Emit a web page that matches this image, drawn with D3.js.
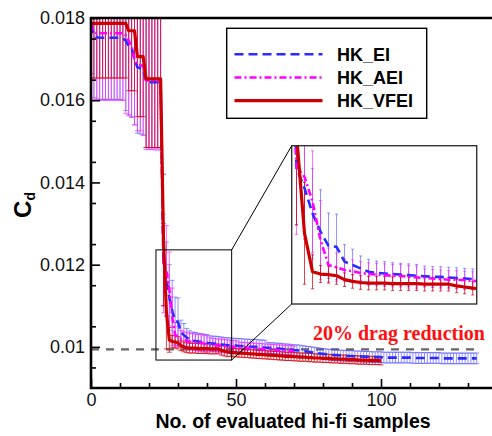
<!DOCTYPE html>
<html>
<head>
<meta charset="utf-8">
<script src="https://cdn.jsdelivr.net/npm/d3@7"></script>
<style>
  body { margin: 0; background: #fff; }
  svg { display: block; font-family: "Liberation Sans", Arial, sans-serif; }
</style>
</head>
<body>
<div id="chart"></div>
<script>
// ------------- DATA (index = no. of evaluated hi-fi samples) -------------
var meanEI = [
  0.01785,
  0.01756, 0.01753, 0.01752, 0.01752, 0.01752, 0.01752, 0.01752, 0.01752, 0.01752, 0.01752,
  0.01750, 0.01745, 0.01732, 0.01728, 0.01700, 0.01680, 0.01678, 0.01676, 0.01645, 0.01644,
  0.01644, 0.01644, 0.01644, 0.01644, 0.01200, 0.01165, 0.01120, 0.01088, 0.01063, 0.01061,
  0.01035, 0.01029, 0.01023, 0.01017, 0.01015, 0.01014, 0.01013, 0.01012, 0.01011, 0.01010,
  0.01009, 0.01008, 0.01008, 0.01007, 0.01006, 0.01005, 0.01004, 0.01004, 0.01003, 0.01003,
  0.01002, 0.01002, 0.01001, 0.01001, 0.01000, 0.01000, 0.01000, 0.00999, 0.00999, 0.00998,
  0.00998, 0.00997, 0.00997, 0.00996, 0.00996, 0.00995, 0.00994, 0.00994, 0.00993, 0.00992,
  0.00992, 0.00991, 0.00990, 0.00989, 0.00988, 0.00987, 0.00986, 0.00985, 0.00984, 0.00983,
  0.00982, 0.00981, 0.00981, 0.00980, 0.00980, 0.00979, 0.00979, 0.00978, 0.00978, 0.00978,
  0.00977, 0.00977, 0.00977, 0.00976, 0.00976, 0.00976, 0.00975, 0.00975, 0.00975, 0.00975,
  0.00974, 0.00974, 0.00974, 0.00974, 0.00974, 0.00974, 0.00974, 0.00974, 0.00974, 0.00974,
  0.00973, 0.00973, 0.00973, 0.00973, 0.00973, 0.00973, 0.00973, 0.00973, 0.00973, 0.00973,
  0.00972, 0.00972, 0.00972, 0.00972, 0.00972, 0.00972, 0.00972, 0.00972, 0.00972, 0.00972,
  0.00972, 0.00972, 0.00972
];
var errEI = [
  0.0012,
  0.0015, 0.0015, 0.0015, 0.0015, 0.0015, 0.0015, 0.0015, 0.0015, 0.0015, 0.0015,
  0.0015, 0.0017, 0.0017, 0.0017, 0.0016, 0.0016, 0.0016, 0.0016, 0.0016, 0.0016,
  0.0016, 0.0016, 0.0016, 0.0016, 0.0010, 0.0009, 0.0008, 0.00074, 0.00058, 0.00058,
  0.0003, 0.00028, 0.00022, 0.00022, 0.00021, 0.00021, 0.0002, 0.0002, 0.0002, 0.0002,
  0.00018, 0.00018, 0.00018, 0.00018, 0.00018, 0.00018, 0.00018, 0.00018, 0.00018, 0.00018,
  0.00018, 0.00018, 0.00018, 0.00018, 0.00018, 0.00018, 0.00018, 0.00018, 0.00018, 0.00018,
  0.00013, 0.00013, 0.00013, 0.00013, 0.00013, 0.00013, 0.00013, 0.00013, 0.00013, 0.00013,
  0.00013, 0.00013, 0.00013, 0.00013, 0.00013, 0.00013, 0.00013, 0.00013, 0.00013, 0.00013,
  0.00013, 0.00013, 0.00013, 0.00013, 0.00013, 0.00013, 0.00013, 0.00013, 0.00013, 0.00013,
  0.00013, 0.00013, 0.00013, 0.00013, 0.00013, 0.00013, 0.00013, 0.00013, 0.00013, 0.00013,
  0.00013, 0.00013, 0.00013, 0.00013, 0.00013, 0.00013, 0.00013, 0.00013, 0.00013, 0.00013,
  0.00013, 0.00013, 0.00013, 0.00013, 0.00013, 0.00013, 0.00013, 0.00013, 0.00013, 0.00013,
  0.00013, 0.00013, 0.00013, 0.00013, 0.00013, 0.00013, 0.00013, 0.00013, 0.00013, 0.00013,
  0.00013, 0.00013, 0.00013
];
var meanAEI = [
  0.01785,
  0.01765, 0.01763, 0.01763, 0.01763, 0.01763, 0.01763, 0.01763, 0.01763, 0.01763, 0.01763,
  0.01763, 0.01758, 0.01745, 0.01730, 0.01700, 0.01686, 0.01685, 0.01684, 0.01648, 0.01648,
  0.01648, 0.01647, 0.01647, 0.01647, 0.01203, 0.01185, 0.01141, 0.01073, 0.01029, 0.01025,
  0.01020, 0.01018, 0.01015, 0.01013, 0.01012, 0.01011, 0.01010, 0.01010, 0.01008, 0.01007,
  0.01006, 0.01005, 0.01004, 0.01003, 0.01003, 0.01002, 0.01001, 0.01000, 0.01000, 0.00999,
  0.00999, 0.00998, 0.00998, 0.00997, 0.00997, 0.00996, 0.00996, 0.00995, 0.00995, 0.00994,
  0.00994, 0.00993, 0.00993, 0.00992, 0.00992, 0.00991, 0.00991, 0.00990, 0.00990, 0.00989
];
var errAEI = [
  0.0012,
  0.00163, 0.00163, 0.00163, 0.00163, 0.00163, 0.00163, 0.00163, 0.00163, 0.00163, 0.00163,
  0.00163, 0.0019, 0.0018, 0.0017, 0.0016, 0.0016, 0.0016, 0.0017, 0.00168, 0.00168,
  0.00168, 0.00168, 0.00168, 0.00168, 0.0012, 0.0011, 0.0009, 0.0007, 0.0003, 0.00025,
  0.0002, 0.0002, 0.0002, 0.0002, 0.0002, 0.0002, 0.0002, 0.0002, 0.0002, 0.0002,
  0.00016, 0.00016, 0.00016, 0.00016, 0.00016, 0.00016, 0.00016, 0.00016, 0.00016, 0.00016,
  0.00013, 0.00013, 0.00013, 0.00013, 0.00013, 0.00013, 0.00013, 0.00013, 0.00013, 0.00013,
  0.00013, 0.00013, 0.00013, 0.00013, 0.00013, 0.00013, 0.00013, 0.00013, 0.00013, 0.00013
];
var meanVFEI = [
  0.01787, 0.01787, 0.01787, 0.01787, 0.01787, 0.01787, 0.01787, 0.01787, 0.01787, 0.01787,
  0.01787, 0.01787, 0.01787, 0.01769, 0.01769, 0.01769, 0.01706, 0.01706, 0.01706, 0.01652,
  0.01652, 0.01652, 0.01652, 0.01652, 0.01652, 0.01260, 0.01085, 0.01017, 0.01013, 0.01012,
  0.01010, 0.01003, 0.01000, 0.00998, 0.00997, 0.00997, 0.00997, 0.00996, 0.00996, 0.00996,
  0.00996, 0.00995, 0.00995, 0.00995, 0.00995, 0.00992, 0.00990, 0.00988, 0.00987, 0.00986,
  0.00986, 0.00985, 0.00985, 0.00984, 0.00984, 0.00983, 0.00983, 0.00982, 0.00982, 0.00981,
  0.00981, 0.00980, 0.00980, 0.00979, 0.00979, 0.00978, 0.00978, 0.00977, 0.00977, 0.00977,
  0.00976, 0.00976, 0.00975, 0.00975, 0.00975, 0.00974, 0.00974, 0.00973, 0.00973, 0.00973,
  0.00972, 0.00972, 0.00972, 0.00971, 0.00971, 0.00971, 0.00970, 0.00970, 0.00970, 0.00969,
  0.00969, 0.00969, 0.00968, 0.00968, 0.00968, 0.00968, 0.00967, 0.00967, 0.00967, 0.00967,
  0.00966
];
var errVFEI = [
  0.00133, 0.00133, 0.00133, 0.00133, 0.00133, 0.00133, 0.00133, 0.00133, 0.00133, 0.00133,
  0.00133, 0.00133, 0.00133, 0.00146, 0.00146, 0.00146, 0.00146, 0.00146, 0.00146, 0.00167,
  0.00167, 0.00167, 0.00167, 0.00167, 0.00167, 0.0016, 0.0009, 0.0003, 0.00015, 0.00015,
  0.00015, 0.00012, 0.00012, 0.00012, 0.00012, 0.00012, 0.00012, 0.00012, 0.00012, 0.00012,
  0.00012, 0.00012, 0.00012, 0.00012, 0.00012, 0.00012, 0.00012, 0.00012, 0.0001, 0.0001,
  0.0001, 0.0001, 0.0001, 0.0001, 0.0001, 0.0001, 0.0001, 0.0001, 0.0001, 0.0001,
  0.0001, 0.0001, 0.0001, 0.0001, 0.0001, 0.0001, 0.0001, 0.0001, 0.0001, 0.0001,
  0.0001, 0.0001, 0.0001, 0.0001, 0.0001, 0.0001, 0.0001, 0.0001, 0.0001, 0.0001,
  0.0001, 0.0001, 0.0001, 0.0001, 0.0001, 0.0001, 0.0001, 0.0001, 0.0001, 0.0001,
  0.0001, 0.0001, 0.0001, 0.0001, 0.0001, 0.0001, 0.0001, 0.0001, 0.0001, 0.0001,
  0.0001
];
var seriesNames = ["HK_EI", "HK_AEI", "HK_VFEI"];
var xMajorTicks = [0, 50, 100];
var yMajorTicks = [0.01, 0.012, 0.014, 0.016, 0.018];
var yTickLabels = ["0.01", "0.012", "0.014", "0.016", "0.018"];
var dragTarget = 0.00994;          // 20% drag reduction level
var dragTargetEnd = 133;
var zoomBox = { x0: 22.4, x1: 48.5, y0: 0.00968, y1: 0.01236 };   // region shown in the inset
var insetDomainX = [24.4, 47.5];
var insetDomainY = [0.0096, 0.0124];

var series = [
  { name: seriesNames[0], mean: meanEI,   err: errEI,   line: "#2b2bff", bar: "#4a4aff", barOp: 0.6,  dash: "9,5",     w: 2.6 },
  { name: seriesNames[1], mean: meanAEI,  err: errAEI,  line: "#ff00ff", bar: "#ff22ff", barOp: 0.65, dash: "7,3,2,3", w: 2.6 },
  { name: seriesNames[2], mean: meanVFEI, err: errVFEI, line: "#cc0000", bar: "#d80010", barOp: 0.75, dash: null,      w: 3.2 }
];

// ------------- SVG -------------
var width = 492, height = 436;
var svg = d3.select("#chart").append("svg")
    .attr("width", width)
    .attr("height", height);

var x = d3.scaleLinear().domain([0, 138]).range([91, 491.2]);
var y = d3.scaleLinear().domain([0.009, 0.018]).range([388, 18]);

var xi = d3.scaleLinear().domain(insetDomainX).range([291.7, 476.7]);
var yi = d3.scaleLinear().domain(insetDomainY).range([304, 145.7]);

var defs = svg.append("defs");
defs.append("clipPath").attr("id", "clipMain").append("rect")
    .attr("x", x(0)).attr("y", y(0.018))
    .attr("width", width - x(0)).attr("height", y(0.009) - y(0.018));
defs.append("clipPath").attr("id", "clipInset").append("rect")
    .attr("x", xi.range()[0]).attr("y", yi.range()[1])
    .attr("width", xi.range()[1] - xi.range()[0]).attr("height", yi.range()[0] - yi.range()[1]);

function points(s) {
    return s.mean.map(function (m, i) { return { x: i, m: m, e: s.err[i] }; });
}

// error bars + mean lines
function drawSeries(g, xs, ys, cap) {
    series.forEach(function (s) {
        var p = d3.path();
        points(s).forEach(function (d) {
            var px = xs(d.x), lo = ys(d.m - d.e), hi = ys(d.m + d.e);
            p.moveTo(px, lo); p.lineTo(px, hi);
            p.moveTo(px - cap, lo); p.lineTo(px + cap, lo);
            p.moveTo(px - cap, hi); p.lineTo(px + cap, hi);
        });
        g.append("path")
            .attr("d", p.toString())
            .attr("fill", "none")
            .attr("stroke", s.bar)
            .attr("stroke-opacity", s.barOp)
            .attr("stroke-width", 1);
    });
    var line = d3.line().x(function (d) { return xs(d.x); }).y(function (d) { return ys(d.m); });
    series.forEach(function (s) {
        g.append("path")
            .datum(points(s))
            .attr("d", line)
            .attr("fill", "none")
            .attr("stroke", s.line)
            .attr("stroke-width", s.w)
            .attr("stroke-linejoin", "round")
            .attr("stroke-dasharray", s.dash);
    });
}

// main plot
var gMain = svg.append("g").attr("clip-path", "url(#clipMain)");
gMain.append("line")
    .attr("x1", x(0)).attr("x2", x(dragTargetEnd))
    .attr("y1", y(dragTarget)).attr("y2", y(dragTarget))
    .attr("stroke", "#666").attr("stroke-width", 2.4)
    .attr("stroke-dasharray", "8,7");
drawSeries(gMain, x, y, 2.5);

// zoom rectangle + connectors
svg.append("rect")
    .attr("x", x(zoomBox.x0)).attr("y", y(zoomBox.y1))
    .attr("width", x(zoomBox.x1) - x(zoomBox.x0))
    .attr("height", y(zoomBox.y0) - y(zoomBox.y1))
    .attr("fill", "none").attr("stroke", "#000").attr("stroke-width", 1);
svg.append("line")
    .attr("x1", x(zoomBox.x1)).attr("y1", y(zoomBox.y1))
    .attr("x2", xi.range()[0]).attr("y2", yi.range()[1])
    .attr("stroke", "#000").attr("stroke-width", 1);
svg.append("line")
    .attr("x1", x(zoomBox.x1)).attr("y1", y(zoomBox.y0))
    .attr("x2", xi.range()[0]).attr("y2", yi.range()[0])
    .attr("stroke", "#000").attr("stroke-width", 1);

// inset
svg.append("rect")
    .attr("x", xi.range()[0]).attr("y", yi.range()[1])
    .attr("width", xi.range()[1] - xi.range()[0]).attr("height", yi.range()[0] - yi.range()[1])
    .attr("fill", "#fff");
var gInset = svg.append("g").attr("clip-path", "url(#clipInset)");
drawSeries(gInset, xi, yi, 1.5);
svg.append("rect")
    .attr("x", xi.range()[0]).attr("y", yi.range()[1])
    .attr("width", xi.range()[1] - xi.range()[0]).attr("height", yi.range()[0] - yi.range()[1])
    .attr("fill", "none").attr("stroke", "#333").attr("stroke-width", 1.4);

// ------------- AXES -------------
var yAxis = d3.axisLeft(y).tickValues(yMajorTicks).tickSize(-9).tickPadding(6)
    .tickFormat(function (d, i) { return yTickLabels[i]; });
var yMinor = d3.axisLeft(y).tickValues(d3.range(0.0095, 0.018, 0.001)).tickSize(-5).tickFormat("");
var xAxis = d3.axisBottom(x).tickValues(xMajorTicks).tickSize(-9).tickPadding(5);
var xMinor = d3.axisBottom(x).tickValues(d3.range(10, 138, 10).filter(function (v) { return v % 50; }))
    .tickSize(-5).tickFormat("");

function styleAxis(g) {
    g.select(".domain").remove();
    g.selectAll(".tick line").attr("stroke", "#000").attr("stroke-width", 1.6);
    g.selectAll(".tick text").attr("fill", "#111")
        .style("font-size", "18px").style("font-family", "'Liberation Sans', Arial, sans-serif");
}
svg.append("g").attr("transform", "translate(" + x(0) + ",0)").call(yAxis).call(styleAxis);
svg.append("g").attr("transform", "translate(" + x(0) + ",0)").call(yMinor).call(styleAxis);
svg.append("g").attr("transform", "translate(0," + y(0.009) + ")").call(xAxis).call(styleAxis);
svg.append("g").attr("transform", "translate(0," + y(0.009) + ")").call(xMinor).call(styleAxis);

// frame lines (left, bottom, top)
svg.append("path")
    .attr("d", "M" + width + "," + y(0.018) + "H" + x(0) + "V" + y(0.009) + "H" + width)
    .attr("fill", "none").attr("stroke", "#000").attr("stroke-width", 2.6);

// axis titles
svg.append("text")
    .attr("x", 293).attr("y", 428)
    .attr("text-anchor", "middle")
    .style("font-size", "19.5px").style("font-weight", "bold").attr("fill", "#000")
    .text("No. of evaluated hi-fi samples");

var yt = svg.append("text")
    .attr("transform", "translate(31,205) rotate(-90)")
    .attr("text-anchor", "middle")
    .style("font-weight", "bold").attr("fill", "#000");
yt.append("tspan").style("font-size", "24px").text("C");
yt.append("tspan").style("font-size", "14px").attr("dy", 4).text("d");

// annotation
svg.append("text")
    .attr("x", 313).attr("y", 340)
    .style("font-family", "'Liberation Serif', 'Times New Roman', serif")
    .style("font-size", "20px").style("font-weight", "bold")
    .attr("fill", "#ff1010")
    .text("20% drag reduction");

// ------------- LEGEND -------------
var lg = svg.append("g");
lg.append("rect")
    .attr("x", 226.7).attr("y", 28.3).attr("width", 200).attr("height", 90)
    .attr("fill", "#fff").attr("stroke", "#000").attr("stroke-width", 1.4);
series.forEach(function (s, i) {
    var ly = 54.3 + i * 23.2;
    lg.append("line")
        .attr("x1", 234.5).attr("x2", 322.5).attr("y1", ly).attr("y2", ly)
        .attr("stroke", s.line).attr("stroke-width", s.w)
        .attr("stroke-dasharray", s.dash);
    lg.append("text")
        .attr("x", 337).attr("y", ly + 6.5)
        .style("font-size", "18px").style("font-weight", "bold").attr("fill", "#000")
        .text(s.name);
});
</script>
</body>
</html>
